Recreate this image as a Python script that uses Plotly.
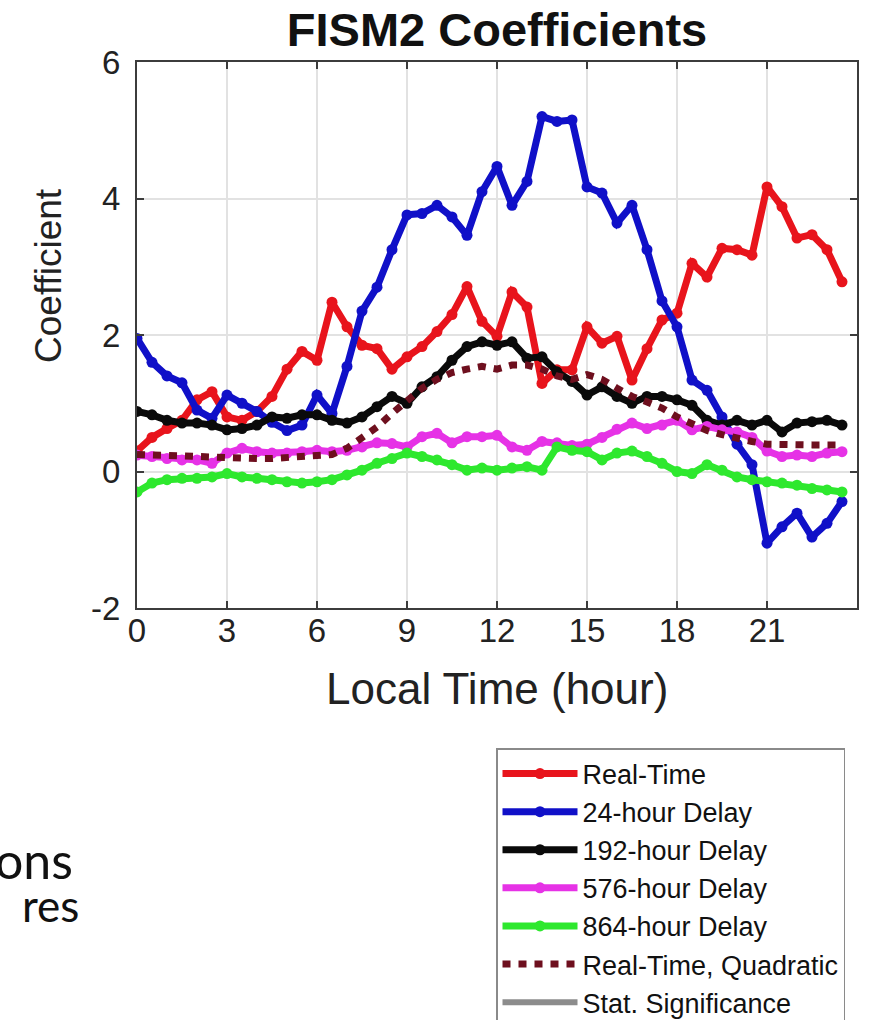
import plotly.graph_objects as go

# Local time of day (hours), half-hour bins
hours = [0.0, 0.5, 1.0, 1.5, 2.0, 2.5, 3.0, 3.5, 4.0, 4.5, 5.0, 5.5,
         6.0, 6.5, 7.0, 7.5, 8.0, 8.5, 9.0, 9.5, 10.0, 10.5, 11.0, 11.5,
         12.0, 12.5, 13.0, 13.5, 14.0, 14.5, 15.0, 15.5, 16.0, 16.5, 17.0, 17.5,
         18.0, 18.5, 19.0, 19.5, 20.0, 20.5, 21.0, 21.5, 22.0, 22.5, 23.0, 23.5]

real_time = [0.30, 0.50, 0.63, 0.75, 1.05, 1.17, 0.80, 0.75, 0.88, 1.10, 1.50, 1.76,
             1.63, 2.48, 2.12, 1.85, 1.80, 1.50, 1.68, 1.83, 2.05, 2.30, 2.71, 2.20,
             1.98, 2.63, 2.41, 1.29, 1.49, 1.49, 2.12, 1.88, 1.98, 1.34, 1.80, 2.22,
             2.32, 3.05, 2.85, 3.27, 3.25, 3.17, 4.17, 3.88, 3.42, 3.47, 3.25, 2.78]

delay_24 = [1.95, 1.60, 1.40, 1.30, 0.90, 0.78, 1.12, 1.00, 0.88, 0.72, 0.60, 0.68,
            1.12, 0.85, 1.54, 2.35, 2.70, 3.25, 3.76, 3.78, 3.90, 3.73, 3.46, 4.10,
            4.47, 3.90, 4.25, 5.20, 5.13, 5.15, 4.17, 4.08, 3.64, 3.90, 3.25, 2.50,
            2.12, 1.34, 1.19, 0.80, 0.40, 0.10, -1.05, -0.81, -0.61, -0.96, -0.76, -0.44]

delay_192 = [0.88, 0.83, 0.75, 0.71, 0.71, 0.68, 0.61, 0.63, 0.68, 0.80, 0.78, 0.83,
             0.83, 0.75, 0.71, 0.80, 0.95, 1.10, 1.00, 1.24, 1.39, 1.63, 1.83, 1.90,
             1.85, 1.90, 1.66, 1.68, 1.46, 1.32, 1.12, 1.24, 1.10, 1.00, 1.10, 1.10,
             1.05, 0.97, 0.75, 0.68, 0.75, 0.68, 0.75, 0.58, 0.71, 0.73, 0.75, 0.68]

delay_576 = [0.24, 0.22, 0.19, 0.17, 0.17, 0.12, 0.27, 0.34, 0.29, 0.27, 0.27, 0.29,
             0.31, 0.29, 0.31, 0.36, 0.42, 0.41, 0.36, 0.51, 0.56, 0.42, 0.51, 0.51,
             0.53, 0.36, 0.31, 0.44, 0.42, 0.38, 0.40, 0.50, 0.62, 0.71, 0.63, 0.68,
             0.75, 0.61, 0.66, 0.61, 0.58, 0.50, 0.30, 0.22, 0.24, 0.22, 0.27, 0.29]

delay_864 = [-0.30, -0.17, -0.12, -0.10, -0.10, -0.08, -0.03, -0.08, -0.10, -0.12, -0.15, -0.17,
             -0.15, -0.12, -0.05, 0.02, 0.12, 0.19, 0.27, 0.22, 0.17, 0.10, 0.02, 0.05,
             0.02, 0.05, 0.07, 0.02, 0.36, 0.31, 0.29, 0.17, 0.27, 0.30, 0.22, 0.12,
             0.00, -0.03, 0.10, 0.02, -0.08, -0.12, -0.15, -0.17, -0.20, -0.25, -0.27, -0.30]

real_time_quad = [0.25, 0.24, 0.23, 0.22, 0.21, 0.20, 0.20, 0.19, 0.19, 0.19, 0.20, 0.21,
                  0.22, 0.25, 0.34, 0.50, 0.65, 0.85, 1.05, 1.22, 1.35, 1.45, 1.50, 1.54,
                  1.50, 1.56, 1.56, 1.50, 1.40, 1.35, 1.42, 1.35, 1.22, 1.10, 1.02, 0.93,
                  0.80, 0.70, 0.60, 0.54, 0.48, 0.44, 0.40, 0.39, 0.39, 0.39, 0.39, 0.39]

series_names = ["Real-Time", "24-hour Delay", "192-hour Delay",
                "576-hour Delay", "864-hour Delay"]
series_values = [real_time, delay_24, delay_192, delay_576, delay_864]
series_colors = ["#e8141c", "#1010c8", "#0a0a0a", "#e632e6", "#2ee82e"]

x_ticks = [0, 3, 6, 9, 12, 15, 18, 21]
y_ticks = [-2, 0, 2, 4, 6]

W, H = 881, 1020
L, R, T, B = 137, 24, 62, 412
PW, PH = W - L - R, H - T - B

FONT = "Liberation Sans, Arial, Helvetica, sans-serif"


def px_x(px):
    return (px - L) / PW


def px_y(py):
    return (H - B - py) / PH


fig = go.Figure()

for i, (name, vals, col) in enumerate(zip(series_names, series_values, series_colors)):
    fig.add_trace(go.Scatter(
        x=hours, y=vals, name=name, mode="lines+markers",
        line=dict(color=col, width=7),
        marker=dict(color=col, size=11),
        legendgroup=f"g{i}",
    ))

fig.add_trace(go.Scatter(
    x=hours, y=real_time_quad, name="Real-Time, Quadratic", mode="lines",
    line=dict(color="#6e0f1e", width=7, dash="8px,8px"),
    legendgroup="g5",
))

# legend-only entry for the significance threshold
fig.add_trace(go.Scatter(
    x=[None], y=[None], name="Stat. Significance", mode="lines",
    line=dict(color="#8c8c8c", width=6),
    legendgroup="g6",
))

fig.update_layout(
    width=W, height=H,
    margin=dict(l=L, r=R, t=T, b=B, autoexpand=False),
    paper_bgcolor="white", plot_bgcolor="white",
    font=dict(family=FONT, color="#1e1e1e"),
    title=dict(text="<b>FISM2 Coefficients</b>", x=497 / W, xanchor="center",
               y=1 - 30 / H, yanchor="middle",
               font=dict(size=47, color="#111111", family=FONT)),
    showlegend=True,
    legend=dict(
        xref="container", yref="container",
        x=496 / W, xanchor="left",
        y=1 - 748 / H, yanchor="top",
        bgcolor="white", bordercolor="#8a8a8a", borderwidth=1.5,
        font=dict(size=27, family=FONT, color="#111111"),
        itemwidth=75, tracegroupgap=0,
        traceorder="normal",
    ),
)

fig.update_xaxes(
    range=[0, 24], tickvals=x_ticks, ticktext=[str(t) for t in x_ticks],
    showgrid=True, gridcolor="#e2e2e2", gridwidth=1.5,
    showline=True, linecolor="#3c3c3c", linewidth=2, mirror="ticks",
    ticks="inside", ticklen=7, tickcolor="#3c3c3c", tickwidth=1.5,
    tickfont=dict(size=33, family=FONT, color="#222222"),
    ticklabelstandoff=-8,
    zeroline=False,
)
fig.update_yaxes(
    range=[-2, 6], tickvals=y_ticks, ticktext=[str(t) for t in y_ticks],
    showgrid=True, gridcolor="#e2e2e2", gridwidth=1.5,
    showline=True, linecolor="#3c3c3c", linewidth=2, mirror="ticks",
    ticks="inside", ticklen=7, tickcolor="#3c3c3c", tickwidth=1.5,
    tickfont=dict(size=33, family=FONT, color="#222222"),
    ticklabelstandoff=8,
    zeroline=False,
)

# axis labels
fig.add_annotation(text="Local Time (hour)", xref="paper", yref="paper",
                   x=px_x(497), y=px_y(688), xanchor="center", yanchor="middle",
                   showarrow=False,
                   font=dict(size=44, family=FONT, color="#222222"))
fig.add_annotation(text="Coefficient", xref="paper", yref="paper",
                   x=px_x(48), y=px_y(276), xanchor="center", yanchor="middle",
                   textangle=-90, showarrow=False,
                   font=dict(size=37, family=FONT, color="#222222"))

# fragments of the surrounding slide text
fig.add_annotation(text="ons", xref="paper", yref="paper",
                   x=px_x(75), xanchor="right",
                   y=px_y(860), yanchor="middle", showarrow=False,
                   font=dict(size=50, family="Lato, Open Sans, sans-serif", color="#111111"))
fig.add_annotation(text="res", xref="paper", yref="paper",
                   x=px_x(81), xanchor="right",
                   y=px_y(905), yanchor="middle", showarrow=False,
                   font=dict(size=44, family="Lato, Open Sans, sans-serif", color="#111111"))

fig.write_html("out.html")
